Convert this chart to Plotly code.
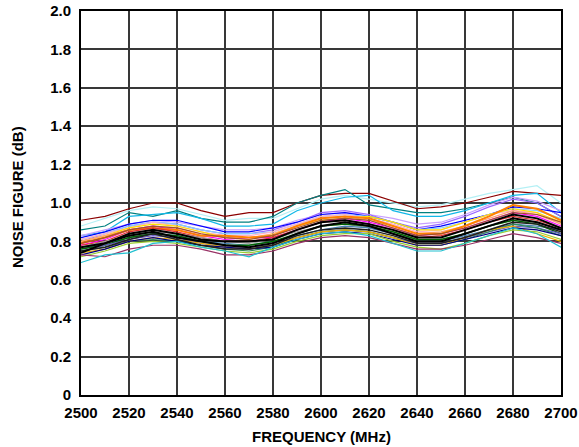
import plotly.graph_objects as go

freq = [2500, 2510, 2520, 2530, 2540, 2550, 2560, 2570, 2580, 2590, 2600,
        2610, 2620, 2630, 2640, 2650, 2660, 2670, 2680, 2690, 2700]

nf_darkred = [0.91, 0.93, 0.97, 1.00, 1.00, 0.96, 0.93, 0.95, 0.95, 1.00, 1.04, 1.05, 1.05, 1.01, 0.97, 0.98, 1.00, 1.03, 1.06, 1.05, 1.04]
nf_teal = [0.86, 0.88, 0.95, 0.93, 0.96, 0.92, 0.90, 0.90, 0.93, 1.00, 1.04, 1.07, 0.99, 0.97, 0.95, 0.95, 0.97, 1.00, 1.03, 1.00, 0.93]
nf_skyblue = [0.83, 0.85, 0.93, 0.94, 0.95, 0.92, 0.88, 0.88, 0.89, 0.96, 1.00, 1.03, 1.04, 0.96, 0.93, 0.93, 0.96, 1.00, 1.04, 1.05, 0.95]
nf_paleturq = [0.88, 0.92, 0.96, 0.98, 0.97, 0.94, 0.91, 0.92, 0.92, 0.97, 1.02, 1.04, 1.02, 1.00, 0.98, 0.99, 1.02, 1.05, 1.07, 1.09, 1.00]
nf_blue = [0.82, 0.85, 0.89, 0.91, 0.91, 0.88, 0.85, 0.85, 0.87, 0.90, 0.94, 0.95, 0.93, 0.90, 0.86, 0.88, 0.91, 0.94, 0.98, 0.97, 0.95]
nf_purple = [0.80, 0.84, 0.88, 0.90, 0.89, 0.86, 0.84, 0.84, 0.86, 0.90, 0.95, 0.96, 0.94, 0.90, 0.87, 0.89, 0.93, 0.98, 1.02, 1.00, 0.93]
nf_orange = [0.79, 0.82, 0.86, 0.87, 0.86, 0.83, 0.83, 0.82, 0.83, 0.88, 0.92, 0.93, 0.92, 0.88, 0.84, 0.84, 0.88, 0.93, 0.99, 0.97, 0.91]
nf_yellow = [0.80, 0.83, 0.87, 0.89, 0.88, 0.85, 0.82, 0.81, 0.84, 0.88, 0.91, 0.92, 0.93, 0.90, 0.86, 0.86, 0.90, 0.94, 0.97, 0.95, 0.90]
nf_magenta = [0.78, 0.81, 0.86, 0.88, 0.86, 0.83, 0.81, 0.82, 0.82, 0.86, 0.90, 0.92, 0.90, 0.87, 0.83, 0.84, 0.87, 0.91, 0.95, 0.93, 0.88]
nf_pink = [0.81, 0.84, 0.87, 0.90, 0.88, 0.85, 0.83, 0.83, 0.85, 0.89, 0.93, 0.94, 0.92, 0.89, 0.85, 0.86, 0.90, 0.94, 0.96, 0.95, 0.89]
nf_black1 = [0.74, 0.79, 0.83, 0.85, 0.82, 0.80, 0.78, 0.77, 0.79, 0.84, 0.88, 0.90, 0.88, 0.84, 0.80, 0.80, 0.84, 0.88, 0.92, 0.90, 0.86]
nf_black2 = [0.77, 0.79, 0.84, 0.86, 0.84, 0.81, 0.80, 0.80, 0.81, 0.86, 0.90, 0.91, 0.89, 0.86, 0.82, 0.82, 0.86, 0.90, 0.94, 0.92, 0.87]
nf_black3 = [0.75, 0.77, 0.81, 0.84, 0.81, 0.78, 0.76, 0.76, 0.78, 0.83, 0.86, 0.87, 0.86, 0.83, 0.79, 0.79, 0.82, 0.86, 0.90, 0.89, 0.85]
nf_darkgreen = [0.76, 0.78, 0.82, 0.84, 0.83, 0.80, 0.78, 0.78, 0.80, 0.84, 0.88, 0.89, 0.88, 0.85, 0.81, 0.81, 0.84, 0.88, 0.91, 0.89, 0.84]
nf_gray = [0.77, 0.80, 0.83, 0.85, 0.84, 0.82, 0.80, 0.79, 0.81, 0.85, 0.88, 0.89, 0.87, 0.84, 0.81, 0.81, 0.84, 0.88, 0.91, 0.90, 0.86]
nf_navy = [0.73, 0.76, 0.80, 0.82, 0.80, 0.78, 0.77, 0.76, 0.77, 0.81, 0.84, 0.85, 0.84, 0.81, 0.78, 0.78, 0.81, 0.84, 0.87, 0.86, 0.83]
nf_yellowgreen = [0.72, 0.75, 0.79, 0.80, 0.79, 0.77, 0.75, 0.74, 0.76, 0.80, 0.83, 0.84, 0.84, 0.80, 0.77, 0.76, 0.79, 0.83, 0.86, 0.85, 0.81]
nf_plum = [0.73, 0.72, 0.76, 0.78, 0.78, 0.76, 0.73, 0.73, 0.75, 0.79, 0.82, 0.83, 0.82, 0.79, 0.76, 0.76, 0.78, 0.81, 0.84, 0.82, 0.79]
nf_turquoise = [0.69, 0.73, 0.74, 0.79, 0.80, 0.77, 0.75, 0.72, 0.77, 0.81, 0.84, 0.85, 0.83, 0.79, 0.75, 0.75, 0.79, 0.83, 0.87, 0.84, 0.77]
nf_green = [0.75, 0.77, 0.80, 0.81, 0.80, 0.78, 0.76, 0.75, 0.77, 0.82, 0.85, 0.86, 0.85, 0.82, 0.78, 0.78, 0.81, 0.85, 0.89, 0.87, 0.83]
nf_gold = [0.74, 0.76, 0.80, 0.82, 0.81, 0.79, 0.77, 0.76, 0.78, 0.82, 0.85, 0.86, 0.85, 0.82, 0.78, 0.78, 0.82, 0.86, 0.88, 0.84, 0.80]
nf_sienna = [0.79, 0.82, 0.86, 0.88, 0.87, 0.84, 0.82, 0.81, 0.83, 0.87, 0.91, 0.92, 0.91, 0.87, 0.83, 0.84, 0.87, 0.91, 0.95, 0.94, 0.90]
nf_steel = [0.76, 0.79, 0.82, 0.84, 0.83, 0.80, 0.79, 0.78, 0.80, 0.83, 0.86, 0.88, 0.87, 0.84, 0.80, 0.80, 0.83, 0.86, 0.89, 0.88, 0.86]
nf_salmon = [0.80, 0.83, 0.86, 0.88, 0.87, 0.84, 0.82, 0.82, 0.84, 0.88, 0.92, 0.93, 0.91, 0.88, 0.84, 0.85, 0.88, 0.92, 0.96, 0.94, 0.89]
nf_lightblue = [0.81, 0.84, 0.88, 0.90, 0.89, 0.86, 0.84, 0.84, 0.85, 0.89, 0.93, 0.94, 0.93, 0.90, 0.86, 0.87, 0.90, 0.94, 0.97, 0.96, 0.92]
nf_violet = [0.83, 0.86, 0.89, 0.91, 0.90, 0.88, 0.86, 0.86, 0.87, 0.91, 0.94, 0.95, 0.94, 0.92, 0.89, 0.90, 0.94, 0.99, 1.03, 1.01, 0.96]
nf_slate = [0.75, 0.78, 0.81, 0.83, 0.82, 0.79, 0.77, 0.77, 0.78, 0.82, 0.85, 0.86, 0.85, 0.82, 0.79, 0.79, 0.82, 0.85, 0.88, 0.87, 0.84]
nf_red = [0.78, 0.80, 0.85, 0.87, 0.85, 0.82, 0.80, 0.80, 0.82, 0.86, 0.90, 0.91, 0.89, 0.86, 0.82, 0.83, 0.86, 0.90, 0.93, 0.91, 0.87]

x_ticks = [2500, 2520, 2540, 2560, 2580, 2600, 2620, 2640, 2660, 2680, 2700]
y_ticks = [0, 0.2, 0.4, 0.6, 0.8, 1.0, 1.2, 1.4, 1.6, 1.8, 2.0]
y_labels = ["0", "0.2", "0.4", "0.6", "0.8", "1.0", "1.2", "1.4", "1.6", "1.8", "2.0"]
x_title = "FREQUENCY (MHz)"
y_title = "NOISE FIGURE (dB)"

series = [
    (nf_paleturq, "#B4F0F5", 1.2),
    (nf_darkred, "#8B0000", 1.2),
    (nf_teal, "#008080", 1.2),
    (nf_skyblue, "#12B8E8", 1.2),
    (nf_violet, "#C8A0FF", 1.2),
    (nf_purple, "#9966FF", 1.2),
    (nf_blue, "#0000FF", 1.2),
    (nf_lightblue, "#87CEFA", 1.2),
    (nf_pink, "#FFB0C8", 1.2),
    (nf_yellow, "#FFE000", 1.2),
    (nf_salmon, "#FFA07A", 1.2),
    (nf_magenta, "#FF00FF", 1.2),
    (nf_orange, "#FF8000", 2.0),
    (nf_sienna, "#A0522D", 1.2),
    (nf_red, "#E03030", 1.2),
    (nf_gray, "#A0A0A0", 1.2),
    (nf_steel, "#4682B4", 1.2),
    (nf_darkgreen, "#006400", 1.5),
    (nf_slate, "#6A5ACD", 1.2),
    (nf_green, "#2E8B57", 1.2),
    (nf_gold, "#F0B000", 1.2),
    (nf_navy, "#000080", 1.2),
    (nf_yellowgreen, "#9ACD32", 1.2),
    (nf_plum, "#993366", 1.2),
    (nf_turquoise, "#20C0D0", 1.2),
    (nf_black3, "#202020", 1.5),
    (nf_black2, "#000000", 2.0),
    (nf_black1, "#000000", 2.0),
]

fig = go.Figure()
for vals, color, w in series:
    fig.add_trace(go.Scatter(x=freq, y=vals, mode="lines",
                             line=dict(color=color, width=w), showlegend=False,
                             hoverinfo="skip"))

FAM = "Liberation Sans, Arial, sans-serif"
tickfont = dict(family=FAM, size=15, color="#000000")

fig.update_layout(
    width=579, height=447,
    margin=dict(l=81, r=18, t=11, b=52),
    paper_bgcolor="white", plot_bgcolor="white",
    font=dict(family=FAM, size=15, color="#000000"),
    xaxis=dict(
        range=[2500, 2700], tickmode="array", tickvals=x_ticks,
        ticktext=[f"<b>{v}</b>" for v in x_ticks],
        showgrid=True, gridcolor="#383838", gridwidth=1.5,
        showline=True, linecolor="#000000", linewidth=2, mirror=True,
        ticks="", zeroline=False, automargin=False,
        ticklabelstandoff=3,
        tickfont=tickfont,
    ),
    yaxis=dict(
        range=[0, 2.0], tickmode="array", tickvals=y_ticks,
        ticktext=[f"<b>{t}</b>" for t in y_labels],
        showgrid=True, gridcolor="#383838", gridwidth=1.5,
        showline=True, linecolor="#000000", linewidth=2, mirror=True,
        ticks="", zeroline=False, automargin=False,
        ticklabelstandoff=5,
        tickfont=tickfont,
    ),
    annotations=[
        dict(text=f"<b>{x_title}</b>", xref="paper", yref="paper",
             x=0.5, y=-0.109, xanchor="center", yanchor="middle",
             showarrow=False, font=dict(family=FAM, size=15, color="#000000")),
        dict(text=f"<b>{y_title}</b>", xref="paper", yref="paper",
             x=-0.131, y=0.516, xanchor="center", yanchor="middle", textangle=-90,
             showarrow=False, font=dict(family=FAM, size=15, color="#000000")),
    ],
)

fig.write_html("out.html", config={"displayModeBar": False},
               post_script="document.body.style.margin='0px';")
